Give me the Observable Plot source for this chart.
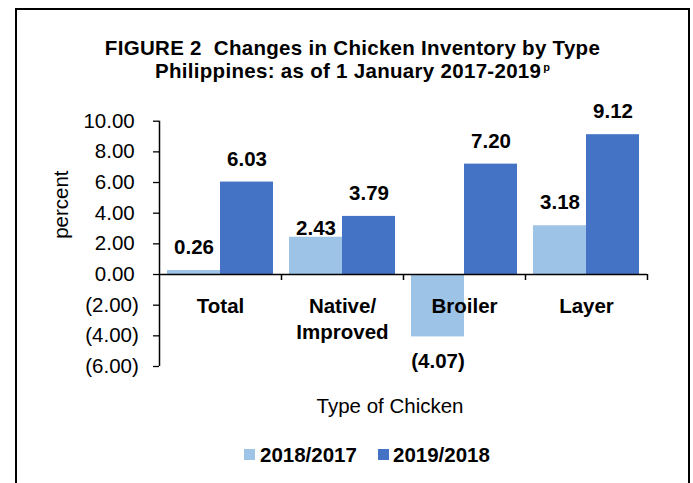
<!DOCTYPE html>
<html>
<head>
<meta charset="utf-8">
<script src="https://cdn.jsdelivr.net/npm/d3@7"></script>
<script src="https://cdn.jsdelivr.net/npm/@observablehq/plot@0.6"></script>
<style>
  html, body { margin: 0; padding: 0; background: #fff; }
  #page { position: relative; width: 693px; height: 483px; overflow: hidden; background: #fff;
          font-family: "Liberation Sans", Arial, sans-serif; color: #000; }
  #border { position: absolute; left: 15px; top: 8px; width: 675px; height: 520px;
            border: 2px solid #000; box-sizing: border-box; pointer-events: none; }
  #title { position: absolute; left: 15px; top: 37px; width: 675px; text-align: center;
           font-weight: bold; font-size: 20.5px; line-height: 22.6px; white-space: pre; letter-spacing: 0.3px; }
  #title .sup { font-size: 11px; position: relative; top: -7px; margin-left: 2px; letter-spacing: 0; }
  #chart { position: absolute; left: 0; top: 100px; }
  #xtitle { position: absolute; left: 290px; top: 394px; width: 200px; text-align: center;
            font-size: 20.5px; line-height: 24px; }
  .sw { position: absolute; top: 449px; width: 11px; height: 11px; }
  .lt { position: absolute; top: 443px; font-size: 20.5px; line-height: 24px; font-weight: bold; white-space: nowrap; }
</style>
</head>
<body>
<div id="page">
  <div id="title">FIGURE 2  Changes in Chicken Inventory by Type
Philippines: as of 1 January 2017-2019<span class="sup">p</span></div>
  <div id="chart"></div>
  <div id="xtitle">Type of Chicken</div>
  <div id="legend"></div>
  <div id="border"></div>
</div>
<script>
// ---- data ----
const categories = ["Total", "Native/Improved", "Broiler", "Layer"];
const categoryLabels = ["Total", "Native/\nImproved", "Broiler", "Layer"];
const series = ["2018/2017", "2019/2018"];
const values2018 = [0.26, 2.43, -4.07, 3.18];
const values2019 = [6.03, 3.79, 7.20, 9.12];
const yTicks = [-6, -4, -2, 0, 2, 4, 6, 8, 10];
const colors = ["#9DC3E6", "#4472C4"];

const rows = categories.flatMap((c, i) => [
  {type: c, series: series[0], value: values2018[i]},
  {type: c, series: series[1], value: values2019[i]}
]);

// ---- layout ----
const W = 693, H = 300;
const mL = 159, mR = 46, mT = 20.7, mB = 34;
const fw = (W - mL - mR) / categories.length;

const f2 = d3.format(".2f");
const fmtTick = v => v < 0 ? `(${f2(-v)})` : f2(v) + "\u2009";
const fmtVal = v => v < 0 ? `(${f2(-v)})` : f2(v);
// the one label that sits lower in the original
const lowered = new Set(["Native/Improved|2018/2017"]);
const key = d => d.type + "|" + d.series;

const FS = 20.5;
const labelStyle = {fontWeight: "bold", fontSize: FS, fill: "#000"};

const chart = Plot.plot({
  width: W, height: H,
  marginLeft: mL, marginRight: mR, marginTop: mT, marginBottom: mB,
  style: {fontFamily: "'Liberation Sans', Arial, sans-serif", fontSize: FS + "px", color: "#000", background: "transparent", overflow: "visible"},
  fx: {domain: categories, padding: 0, axis: null, label: null},
  x: {domain: series, paddingInner: 0, paddingOuter: 0.138, axis: null},
  y: {domain: [-6, 10], axis: null},
  color: {domain: series, range: colors},
  marks: [
    Plot.barY(rows, {fx: "type", x: "series", y: "value", fill: "series"}),
    Plot.ruleY([0], {stroke: "#000", strokeWidth: 1.5}),
    // vertical value axis line
    Plot.ruleX([{type: categories[0]}], {fx: "type", x: null, y1: -6, y2: 10, dx: -fw / 2, stroke: "#000", strokeWidth: 1.5}),
    // category boundary ticks
    Plot.ruleX(categories.map(c => ({type: c})), {fx: "type", x: null, y1: 0, y2: -0.39, dx: fw / 2, stroke: "#000", strokeWidth: 1.5}),
    Plot.axisY({ticks: yTicks, tickFormat: fmtTick, tickSize: 6, tickPadding: 14.7, fontSize: FS, label: null, stroke: "#000", strokeWidth: 1.3}),
    // value labels
    Plot.text(rows.filter(d => d.value >= 0 && !lowered.has(key(d))), {fx: "type", x: "series", y: "value", text: d => fmtVal(d.value), dy: -23, ...labelStyle}),
    Plot.text(rows.filter(d => d.value >= 0 && lowered.has(key(d))), {fx: "type", x: "series", y: "value", text: d => fmtVal(d.value), dy: -9, ...labelStyle}),
    Plot.text(rows.filter(d => d.value < 0), {fx: "type", x: "series", y: "value", text: d => fmtVal(d.value), dy: 25, ...labelStyle}),
    // category labels under the zero line
    Plot.text(categories.map((c, i) => ({type: c, label: categoryLabels[i]})), {fx: "type", y: () => 0, text: "label", lineAnchor: "top", dy: 21, lineHeight: 1.234, ...labelStyle}),
    // y axis title
    Plot.text([{type: categories[0]}], {fx: "type", text: () => "percent", frameAnchor: "left", rotate: -90, dx: -98, dy: -5, fontSize: FS, fill: "#000"})
  ]
});
document.getElementById("chart").appendChild(chart);

// ---- legend ----
const legend = document.getElementById("legend");
const swX = [244, 378], txtX = [260, 393];
series.forEach((s, i) => {
  const sw = document.createElement("div");
  sw.className = "sw"; sw.style.left = swX[i] + "px"; sw.style.background = colors[i];
  const t = document.createElement("div");
  t.className = "lt"; t.style.left = txtX[i] + "px"; t.textContent = s;
  legend.appendChild(sw); legend.appendChild(t);
});
</script>
</body>
</html>
